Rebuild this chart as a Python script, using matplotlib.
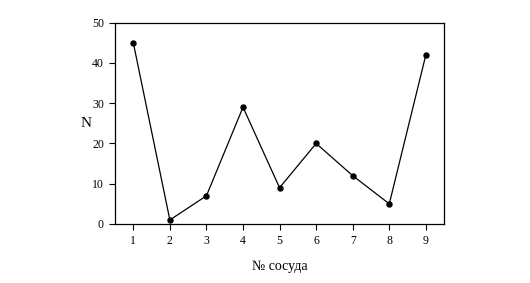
import matplotlib
matplotlib.use("Agg")
import matplotlib.pyplot as plt

vessels = [1, 2, 3, 4, 5, 6, 7, 8, 9]
counts = [45, 1, 7, 29, 9, 20, 12, 5, 42]
yticks = [0, 10, 20, 30, 40, 50]

plt.rcParams['font.family'] = ['Liberation Serif', 'DejaVu Serif']

fig = plt.figure(figsize=(5.3, 2.83), dpi=100)
ax = fig.add_axes([0.217, 0.2085, 0.621, 0.7115])
ax.plot(vessels, counts, color='black', lw=0.9, marker='o', ms=3.6)
ax.set_xlim(0.5, 9.5)
ax.set_ylim(0, 50)
ax.set_xticks(vessels)
ax.set_yticks(yticks)
ax.tick_params(labelsize=8.5, length=4, width=0.8, direction='out', pad=4)
for s in ax.spines.values():
    s.set_linewidth(0.9)
ax.set_xlabel('№ сосуда', fontsize=10, labelpad=9)
ax.set_ylabel('N', fontsize=11, rotation=0, labelpad=4, va='center')
fig.savefig('out.png', dpi=100)
